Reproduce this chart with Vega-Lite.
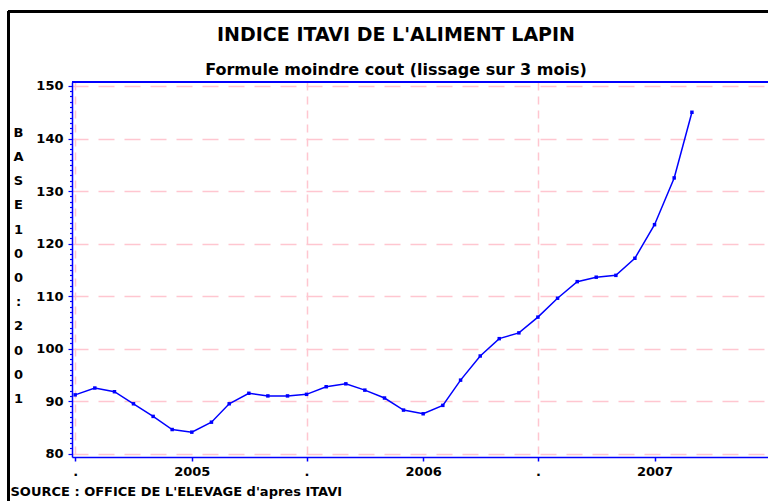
{
  "$schema": "https://vega.github.io/schema/vega-lite/v6.json",
  "width": 696,
  "height": 375,
  "autosize": {"type": "none"},
  "padding": {"left": 72, "top": 82, "right": 0, "bottom": 44},
  "background": "white",
  "config": {"view": {"stroke": null}},
  "title": {
    "text": "INDICE ITAVI DE L'ALIMENT LAPIN",
    "subtitle": "Formule moindre cout (lissage sur 3 mois)",
    "anchor": "middle",
    "frame": "group",
    "dx": -24,
    "offset": -68,
    "font": "DejaVu Sans",
    "fontSize": 19,
    "fontWeight": "bold",
    "color": "black",
    "subtitleFont": "DejaVu Sans",
    "subtitleFontSize": 16,
    "subtitleFontWeight": "bold",
    "subtitleColor": "black",
    "subtitlePadding": 17
  },
  "data": {
    "values": [
      {"date": "2004-07-01", "value": 91.2},
      {"date": "2004-08-01", "value": 92.5},
      {"date": "2004-09-01", "value": 91.8},
      {"date": "2004-10-01", "value": 89.5},
      {"date": "2004-11-01", "value": 87.1},
      {"date": "2004-12-01", "value": 84.6},
      {"date": "2005-01-01", "value": 84.1},
      {"date": "2005-02-01", "value": 86.0},
      {"date": "2005-03-01", "value": 89.5},
      {"date": "2005-04-01", "value": 91.5},
      {"date": "2005-05-01", "value": 91.0},
      {"date": "2005-06-01", "value": 91.0},
      {"date": "2005-07-01", "value": 91.3},
      {"date": "2005-08-01", "value": 92.75},
      {"date": "2005-09-01", "value": 93.3},
      {"date": "2005-10-01", "value": 92.1},
      {"date": "2005-11-01", "value": 90.6},
      {"date": "2005-12-01", "value": 88.3},
      {"date": "2006-01-01", "value": 87.6},
      {"date": "2006-02-01", "value": 89.2},
      {"date": "2006-03-01", "value": 94.0},
      {"date": "2006-04-01", "value": 98.6},
      {"date": "2006-05-01", "value": 101.9},
      {"date": "2006-06-01", "value": 103.0},
      {"date": "2006-07-01", "value": 106.0},
      {"date": "2006-08-01", "value": 109.6},
      {"date": "2006-09-01", "value": 112.75},
      {"date": "2006-10-01", "value": 113.6},
      {"date": "2006-11-01", "value": 113.95},
      {"date": "2006-12-01", "value": 117.2},
      {"date": "2007-01-01", "value": 123.6},
      {"date": "2007-02-01", "value": 132.5},
      {"date": "2007-03-01", "value": 145.0}
    ]
  },
  "layer": [
    {
      "mark": {"type": "line", "color": "#0000ff", "strokeWidth": 1.5},
      "encoding": {
        "x": {
          "field": "date",
          "type": "temporal",
          "scale": {
            "type": "utc",
            "domain": [
              {"year": 2004, "month": 6, "date": 26, "utc": true},
              {"year": 2007, "month": 6, "date": 29, "utc": true}
            ]
          },
          "axis": {
            "values": [
              {"year": 2004, "month": 7, "date": 1, "utc": true},
              {"year": 2005, "month": 1, "date": 1, "utc": true},
              {"year": 2005, "month": 7, "date": 1, "utc": true},
              {"year": 2006, "month": 1, "date": 1, "utc": true},
              {"year": 2006, "month": 7, "date": 1, "utc": true},
              {"year": 2007, "month": 1, "date": 1, "utc": true}
            ],
            "tickCount": 50,
            "labelExpr": "utcmonth(datum.value) == 0 ? utcFormat(datum.value, '%Y') : '.'",
            "labelFont": "DejaVu Sans",
            "labelFontWeight": "bold",
            "labelFontSize": 13,
            "labelColor": "black",
            "labelPadding": 4,
            "labelFlush": false,
            "labelOverlap": false,
            "tickSize": 4,
            "tickColor": "#0000ff",
            "tickWidth": 1.5,
            "domainColor": "#0000ff",
            "domainWidth": 1.5,
            "grid": true,
            "gridColor": "#ffc6d0",
            "gridWidth": 1.5,
            "gridDash": [8, 6],
            "gridOpacity": {"condition": {"test": "utcmonth(datum.value) == 6", "value": 1}, "value": 0},
            "title": "SOURCE : OFFICE DE L'ELEVAGE d'apres ITAVI",
            "titleFont": "DejaVu Sans",
            "titleFontWeight": "bold",
            "titleFontSize": 13,
            "titleColor": "black",
            "titleAlign": "left",
            "titleAnchor": "start",
            "titleBaseline": "alphabetic",
            "titleX": -62,
            "titleY": 38
          }
        },
        "y": {
          "field": "value",
          "type": "quantitative",
          "scale": {"domain": [79.37, 150.76], "zero": false, "nice": false},
          "axis": {
            "values": [80,81,82,83,84,85,86,87,88,89,90,91,92,93,94,95,96,97,98,99,100,101,102,103,104,105,106,107,108,109,110,111,112,113,114,115,116,117,118,119,120,121,122,123,124,125,126,127,128,129,130,131,132,133,134,135,136,137,138,139,140,141,142,143,144,145,146,147,148,149,150],
            "tickCount": 200,
            "labelExpr": "datum.value % 10 == 0 ? format(datum.value, 'd') : ''",
            "labelFont": "DejaVu Sans",
            "labelFontWeight": "bold",
            "labelFontSize": 13,
            "labelColor": "black",
            "labelPadding": 5,
            "labelFlush": false,
            "labelOverlap": false,
            "tickSize": {"condition": {"test": "datum.value % 10 == 0", "value": 4}, "value": 2.5},
            "tickColor": "#0000ff",
            "tickWidth": 1.2,
            "domainColor": "#0000ff",
            "domainWidth": 1.5,
            "grid": true,
            "gridColor": "#ffc6d0",
            "gridWidth": 1.5,
            "gridDash": [16, 10],
            "gridOpacity": {"condition": {"test": "datum.value % 10 == 0", "value": 1}, "value": 0},
            "title": ["B", "A", "S", "E", "1", "0", "0", ":", "2", "0", "0", "1"],
            "titleFont": "DejaVu Sans",
            "titleFontWeight": "bold",
            "titleFontSize": 13,
            "titleColor": "black",
            "titleAngle": 0,
            "titleAlign": "center",
            "titleBaseline": "alphabetic",
            "titleLineHeight": 24.2,
            "titleX": -54,
            "titleY": 54.4
          }
        }
      }
    },
    {
      "mark": {"type": "point", "shape": "square", "filled": true, "color": "#0000ff", "size": 12, "opacity": 1},
      "encoding": {
        "x": {"field": "date", "type": "temporal"},
        "y": {"field": "value", "type": "quantitative"}
      }
    },
    {
      "mark": {"type": "rule", "color": "#0000ff", "strokeWidth": 1.5},
      "encoding": {
        "x": {"datum": {"year": 2004, "month": 6, "date": 26, "utc": true}, "type": "temporal"},
        "x2": {"datum": {"year": 2008, "month": 1, "date": 1, "utc": true}},
        "y": {"datum": 150.76, "type": "quantitative"}
      }
    },
    {
      "mark": {"type": "rule", "color": "black", "strokeWidth": 2.5},
      "encoding": {
        "x": {"datum": {"year": 2004, "month": 3, "date": 18, "utc": true}, "type": "temporal"},
        "x2": {"datum": {"year": 2008, "month": 1, "date": 1, "utc": true}},
        "y": {"datum": 164.2, "type": "quantitative"}
      }
    },
    {
      "mark": {"type": "rule", "color": "black", "strokeWidth": 2.5},
      "encoding": {
        "x": {"datum": {"year": 2004, "month": 3, "date": 18, "utc": true}, "type": "temporal"},
        "y": {"datum": 164.2, "type": "quantitative"},
        "y2": {"datum": 60}
      }
    }
  ]
}
